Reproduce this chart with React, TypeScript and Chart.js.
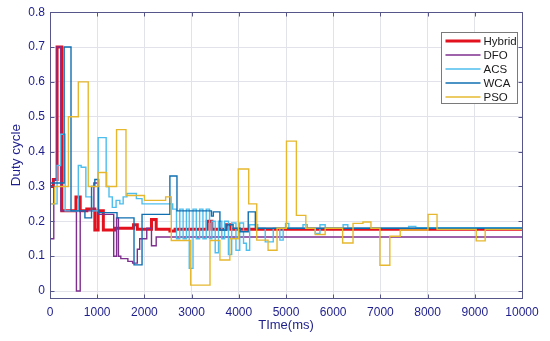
import React, { useEffect, useRef } from "react";
import { Chart, registerables } from "chart.js";

Chart.register(...registerables);

const seriesNames = ["Hybrid", "DFO", "ACS", "WCA", "PSO"];
const seriesColors = ["#e3101e", "#7e2f8e", "#4dbeee", "#0f6fb0", "#e6b830"];
const seriesWidths = [3, 1.4, 1.4, 1.4, 1.4];

const xTicks = [0, 1000, 2000, 3000, 4000, 5000, 6000, 7000, 8000, 9000, 10000];
const yTicks = [0, 0.1, 0.2, 0.3, 0.4, 0.5, 0.6, 0.7, 0.8];

const hybridT = [0, 70, 150, 250, 550, 640, 780, 950, 1020, 1130, 1380, 1770, 1850, 2150, 2250, 2540, 2650, 3330, 3430, 3720, 3830, 10000];
const hybridV = [0.30, 0.32, 0.70, 0.23, 0.27, 0.23, 0.235, 0.175, 0.23, 0.175, 0.18, 0.19, 0.177, 0.205, 0.177, 0.172, 0.177, 0.2, 0.177, 0.19, 0.177, 0.177];

const dfoT = [0, 80, 150, 230, 560, 640, 930, 1020, 1350, 1410, 1450, 1500, 1650, 1750, 1850, 1900, 2050, 2150, 2250, 10000];
const dfoV = [0.15, 0.32, 0.70, 0.23, 0.0, 0.23, 0.31, 0.22, 0.10, 0.21, 0.10, 0.093, 0.085, 0.08, 0.12, 0.15, 0.18, 0.13, 0.155, 0.155];

const acsT = [0, 150, 225, 320, 600, 660, 760, 880, 1020, 1190, 1250, 1320, 1400, 1480, 1550, 1630, 1830, 1950, 2600, 2680, 2750, 2820, 2890, 2950, 3030, 3100, 3170, 3240, 3310, 3380, 3430, 3500, 3570, 3640, 3700, 3780, 3850, 3940, 4020, 4100, 4160, 4230, 4400, 4560, 4730, 4870, 4940, 4990, 5060, 5360, 5450, 5620, 5720, 5830, 6210, 6310, 7600, 7750, 10000];
const acsV = [0.25, 0.36, 0.45, 0.23, 0.36, 0.355, 0.27, 0.23, 0.44, 0.30, 0.27, 0.24, 0.26, 0.25, 0.27, 0.28, 0.265, 0.25, 0.235, 0.15, 0.235, 0.15, 0.235, 0.065, 0.235, 0.15, 0.235, 0.15, 0.235, 0.15, 0.20, 0.11, 0.20, 0.15, 0.20, 0.105, 0.195, 0.117, 0.195, 0.137, 0.117, 0.19, 0.18, 0.141, 0.18, 0.146, 0.18, 0.194, 0.18, 0.19, 0.18, 0.165, 0.19, 0.18, 0.19, 0.18, 0.185, 0.182, 0.182];

const wcaT = [0, 300, 445, 740, 880, 950, 1030, 1420, 1780, 1950, 2540, 2690, 3420, 3460, 3600, 3750, 3880, 4030, 4200, 4350, 10000];
const wcaV = [0.31, 0.70, 0.23, 0.21, 0.30, 0.32, 0.225, 0.21, 0.075, 0.22, 0.33, 0.23, 0.215, 0.227, 0.175, 0.19, 0.18, 0.17, 0.227, 0.18, 0.18];

const psoT = [0, 100, 390, 600, 810, 1020, 1200, 1410, 1610, 2000, 2450, 2570, 2980, 3390, 3600, 3810, 3990, 4210, 4380, 4620, 4810, 5010, 5220, 5420, 5620, 5830, 6200, 6420, 6630, 6800, 6990, 7200, 7420, 8010, 8200, 9030, 9220, 10000];
const psoV = [0.25, 0.30, 0.50, 0.60, 0.30, 0.34, 0.30, 0.463, 0.274, 0.26, 0.27, 0.145, 0.017, 0.145, 0.089, 0.15, 0.35, 0.25, 0.146, 0.117, 0.18, 0.43, 0.217, 0.18, 0.162, 0.18, 0.138, 0.194, 0.198, 0.18, 0.074, 0.157, 0.175, 0.22, 0.177, 0.144, 0.177, 0.177];

const seriesT = [hybridT, dfoT, acsT, wcaT, psoT];
const seriesV = [hybridV, dfoV, acsV, wcaV, psoV];

const FONT = "'Liberation Sans', Arial, sans-serif";
const LABEL_COLOR = "#1e1e8c";
const FRAME_COLOR = "#56568a";
const GRID_COLOR = "#e2e2ea";

const framePlugin = {
  id: "frameAndLegend",
  afterDatasetsDraw(chart: any) {
    const { ctx, chartArea: a, scales } = chart;
    const L = Math.round(a.left) + 0.5;
    const R = Math.round(a.right) + 0.5;
    const T = Math.round(a.top) + 0.5;
    const B = Math.round(a.bottom) + 0.5;
    ctx.save();
    ctx.strokeStyle = FRAME_COLOR;
    ctx.lineWidth = 1;
    ctx.strokeRect(L, T, R - L, B - T);
    const tl = 4;
    ctx.beginPath();
    xTicks.forEach((v) => {
      const px = Math.round(scales.x.getPixelForValue(v)) + 0.5;
      ctx.moveTo(px, B);
      ctx.lineTo(px, B - tl);
      ctx.moveTo(px, T);
      ctx.lineTo(px, T + tl);
    });
    yTicks.forEach((v) => {
      const py = Math.round(scales.y.getPixelForValue(v)) + 0.5;
      ctx.moveTo(L, py);
      ctx.lineTo(L + tl, py);
      ctx.moveTo(R, py);
      ctx.lineTo(R - tl, py);
    });
    ctx.stroke();

    // legend
    const bx = Math.round(a.right) - 81 + 0.5;
    const by = Math.round(a.top) + 20 + 0.5;
    const bw = 76;
    const bh = 71;
    ctx.fillStyle = "#ffffff";
    ctx.fillRect(bx, by, bw, bh);
    ctx.strokeStyle = "#7a7a7a";
    ctx.lineWidth = 1;
    ctx.strokeRect(bx, by, bw, bh);
    ctx.font = `11.5px ${FONT}`;
    ctx.textBaseline = "middle";
    ctx.textAlign = "left";
    chart.data.datasets.forEach((ds: any, i: number) => {
      const y = by + 8.5 + i * 14;
      ctx.strokeStyle = ds.borderColor;
      ctx.lineWidth = ds.borderWidth;
      ctx.beginPath();
      ctx.moveTo(bx + 4, y);
      ctx.lineTo(bx + 39, y);
      ctx.stroke();
      ctx.fillStyle = "#1a1a1a";
      ctx.fillText(ds.label, bx + 42, y + 0.5);
    });
    ctx.restore();
  },
};

export default function App() {
  const ref = useRef<HTMLCanvasElement | null>(null);
  useEffect(() => {
    document.body.style.margin = "0";
    const canvas = ref.current;
    if (!canvas) return;
    const datasets = seriesNames.map((name, i) => ({
      label: name,
      data: seriesT[i].map((t, j) => ({ x: t, y: seriesV[i][j] })),
      borderColor: seriesColors[i],
      backgroundColor: seriesColors[i],
      borderWidth: seriesWidths[i],
      stepped: true,
      pointRadius: 0,
      tension: 0,
      fill: false,
      order: seriesNames.length - i,
    }));
    const chart = new Chart(canvas, {
      type: "line",
      data: { datasets },
      options: {
        responsive: false,
        animation: false,
        events: [],
        layout: { padding: { top: 11, right: 28, left: 0, bottom: 0 } },
        plugins: { legend: { display: false }, tooltip: { enabled: false } },
        scales: {
          x: {
            type: "linear",
            min: 0,
            max: 10000,
            afterBuildTicks: (s: any) => {
              s.ticks = xTicks.map((v) => ({ value: v }));
            },
            afterFit: (s: any) => {
              s.height = 43;
            },
            ticks: {
              color: LABEL_COLOR,
              font: { family: FONT, size: 12 },
              padding: 7,
              maxRotation: 0,
              autoSkip: false,
              callback: (v: any) => String(v),
            },
            grid: { color: GRID_COLOR, drawTicks: false },
            border: { display: false },
            title: {
              display: true,
              text: "TIme(ms)",
              color: LABEL_COLOR,
              font: { family: FONT, size: 13 },
              padding: { top: 0, bottom: 8 },
            },
          },
          y: {
            type: "linear",
            min: -0.02,
            max: 0.8,
            afterBuildTicks: (s: any) => {
              s.ticks = yTicks.map((v) => ({ value: v }));
            },
            afterFit: (s: any) => {
              s.width = 50;
            },
            ticks: {
              color: LABEL_COLOR,
              font: { family: FONT, size: 12 },
              padding: 5,
              autoSkip: false,
              callback: (v: any) => String(Number(Number(v).toFixed(1))),
            },
            grid: { color: GRID_COLOR, drawTicks: false },
            border: { display: false },
            title: {
              display: true,
              text: "Duty cycle",
              color: LABEL_COLOR,
              font: { family: FONT, size: 13.5 },
              padding: { top: 8, bottom: 0 },
            },
          },
        },
      },
      plugins: [framePlugin],
    });
    return () => chart.destroy();
  }, []);
  return (
    <div style={{ width: 550, height: 341 }}>
      <canvas ref={ref} width={550} height={341} style={{ display: "block" }} />
    </div>
  );
}
